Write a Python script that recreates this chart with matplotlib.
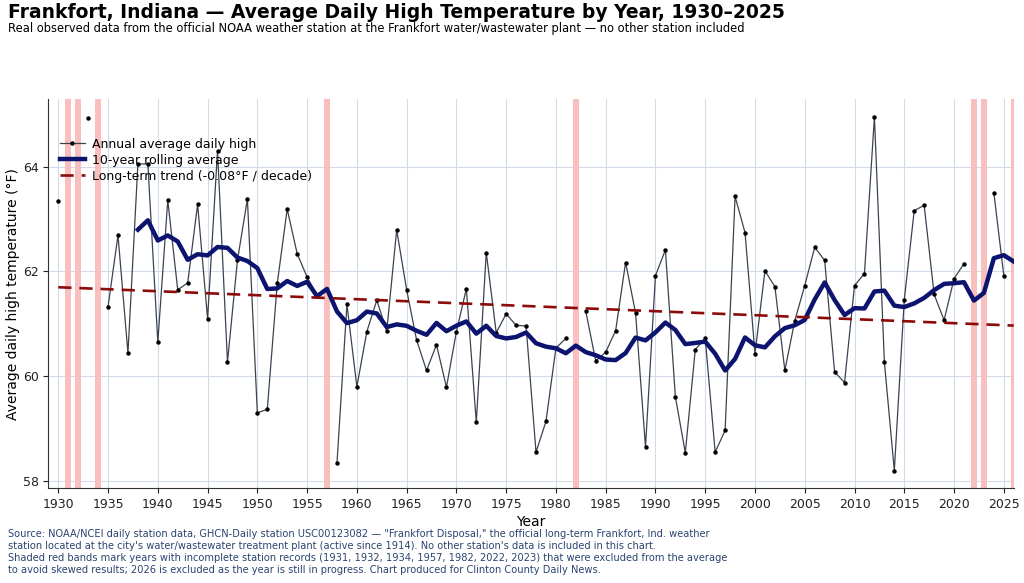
import numpy as np
import pandas as pd
import matplotlib
matplotlib.use("Agg")
import matplotlib.pyplot as plt

# annual average daily high (F); None = excluded year
years = list(range(1930, 2027))
highs = [
    63.35, None, None, 64.92, None, 61.33, 62.69, 60.44, 64.05, 64.05,   # 1930s
    60.65, 63.36, 61.65, 61.78, 63.28, 61.10, 64.30, 60.27, 62.21, 63.38,  # 1940s
    59.30, 59.37, 61.77, 63.19, 62.34, 61.89, 61.55, None, 58.34, 61.37,   # 1950s
    59.80, 60.85, 61.45, 60.86, 62.79, 61.65, 60.69, 60.11, 60.60, 59.79,  # 1960s
    60.85, 61.67, 59.12, 62.36, 60.83, 61.19, 60.97, 60.96, 58.55, 59.14,  # 1970s
    60.54, 60.72, None, 61.24, 60.29, 60.46, 60.87, 62.17, 61.21, 58.65,   # 1980s
    61.92, 62.41, 59.61, 58.54, 60.51, 60.72, 58.55, 58.97, 63.43, 62.74,  # 1990s
    60.43, 62.01, 61.71, 60.11, 61.06, 61.73, 62.46, 62.21, 60.08, 59.88,  # 2000s
    61.73, 61.96, 64.95, 60.27, 58.20, 61.46, 63.16, 63.26, 61.56, 61.07,  # 2010s
    61.86, 62.15, None, None, 63.50, 61.92, None,                          # 2020s
]
excluded_years = [1931, 1932, 1934, 1957, 1982, 2022, 2023, 2026]

s = pd.Series(highs, index=years, dtype=float)
rolling = s.rolling(10, min_periods=6).mean()
valid = s.dropna()
slope, icpt = np.polyfit(valid.index, valid.values, 1)
trend_x = np.array([1930, 2026])
trend_y = slope * trend_x + icpt

fig = plt.figure(figsize=(10.24, 5.83), dpi=100)
ax = fig.add_axes([0.0472, 0.1625, 0.9428, 0.6675])

for yr in excluded_years:
    ax.axvspan(yr - 0.3, yr + 0.3, color="#f9bcbc", alpha=0.95, lw=0, zorder=1)

ax.plot(s.index, s.values, color="#3a4350", lw=0.9, marker="o", ms=2.2,
        mfc="black", mec="black", zorder=3, label="Annual average daily high")
ax.plot(rolling.index, rolling.values, color="#0c1470", lw=3.2, zorder=4,
        label="10-year rolling average")
ax.plot(trend_x, trend_y, color="#8b0a0a", lw=1.9, ls=(0, (5, 3)), zorder=5,
        label=f"Long-term trend ({slope * 10:+.2f}°F / decade)".replace("+", ""))

ax.set_xlim(1929, 2026)
ax.set_xticks(range(1930, 2026, 5))
ax.set_yticks([58, 60, 62, 64])
ax.grid(color="#d3dbe8", lw=0.8, zorder=0)
ax.set_axisbelow(True)
for side in ["top", "right"]:
    ax.spines[side].set_visible(False)
for side in ["left", "bottom"]:
    ax.spines[side].set_color("#333333")
ax.tick_params(labelsize=9, colors="#222222")
ax.set_xlabel("Year", fontsize=10, labelpad=3)
ax.set_ylabel("Average daily high temperature (°F)", fontsize=10, labelpad=2)

ax.legend(loc="upper left", bbox_to_anchor=(0.0, 0.93), frameon=False,
          fontsize=9, labelspacing=0.25, handlelength=2.0, handletextpad=0.6)

fig.text(0.008, 0.995, "Frankfort, Indiana — Average Daily High Temperature by Year, 1930–2025",
         fontsize=13.5, fontweight="bold", va="top", ha="left")
fig.text(0.008, 0.963, "Real observed data from the official NOAA weather station at the "
         "Frankfort water/wastewater plant — no other station included",
         fontsize=8.3, va="top", ha="left")

footer = (
    "Source: NOAA/NCEI daily station data, GHCN-Daily station USC00123082 — \"Frankfort Disposal,\" "
    "the official long-term Frankfort, Ind. weather\n"
    "station located at the city's water/wastewater treatment plant (active since 1914). "
    "No other station's data is included in this chart.\n"
    "Shaded red bands mark years with incomplete station records (1931, 1932, 1934, 1957, 1982, "
    "2022, 2023) that were excluded from the average\n"
    "to avoid skewed results; 2026 is excluded as the year is still in progress. "
    "Chart produced for Clinton County Daily News."
)
fig.text(0.008, 0.092, footer, fontsize=7.1, color="#2b4470", va="top", ha="left",
         linespacing=1.25)

fig.savefig("out.png", dpi=100)
